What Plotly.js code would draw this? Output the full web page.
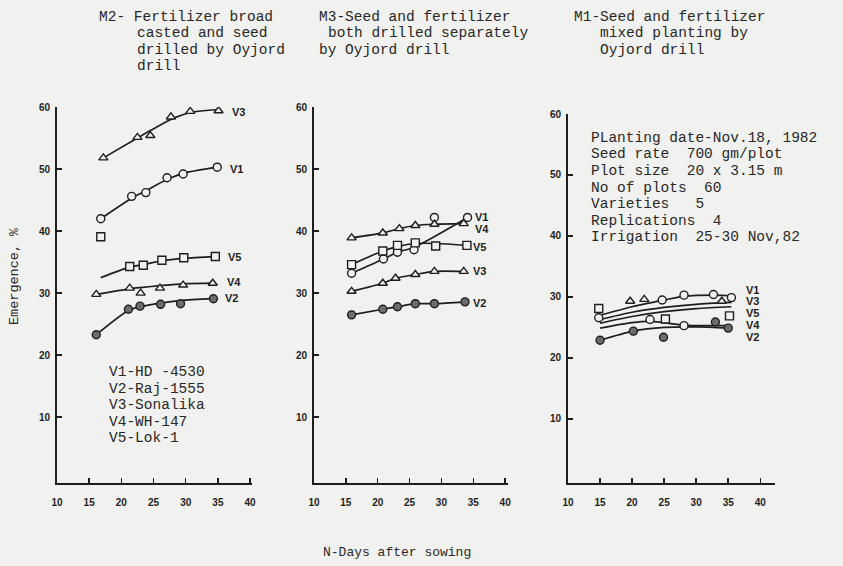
<!DOCTYPE html>
<html>
<head>
<meta charset="utf-8">
<script src="https://cdn.plot.ly/plotly-3.0.1.min.js"></script>
<style>html,body{margin:0;padding:0;background:#f2f2f0;}#chart{width:843px;height:566px;}</style>
</head>
<body>
<div id="chart"></div>
<script>
// ---------------- DATA ----------------
// Panel M2 (left): Fertilizer broad casted and seed drilled by Oyjord drill
const m2_v1_x   = [16.8, 21.6, 23.8, 27.1, 29.6, 34.9];
const m2_v1_obs = [42.0, 45.6, 46.2, 48.6, 49.2, 50.3];
const m2_v1_fit = [42.0, 45.3, 46.5, 48.3, 49.3, 50.3];
const m2_v3_x   = [17.2, 22.5, 24.5, 27.7, 30.7, 35.1];
const m2_v3_obs = [51.8, 55.1, 55.4, 58.4, 59.3, 59.4];
const m2_v3_fit = [51.8, 55.0, 56.2, 58.0, 59.1, 59.6];
const m2_v5_x   = [16.8, 21.3, 23.4, 26.3, 29.7, 34.6];
const m2_v5_obs = [39.1, 34.3, 34.5, 35.3, 35.7, 35.9];
const m2_v5_fit = [32.5, 34.2, 34.6, 35.2, 35.6, 35.9];
const m2_v4_x   = [16.1, 21.3, 23.0, 26.0, 29.6, 34.2];
const m2_v4_obs = [29.8, 30.8, 30.0, 30.8, 31.3, 31.6];
const m2_v4_fit = [29.8, 30.7, 30.9, 31.2, 31.5, 31.6];
const m2_v2_x   = [16.1, 21.1, 22.9, 26.1, 29.2, 34.3];
const m2_v2_obs = [23.3, 27.4, 27.9, 28.2, 28.3, 29.1];
const m2_v2_fit = [23.3, 27.2, 27.8, 28.4, 28.8, 29.1];

// Panel M3 (middle): Seed and fertilizer both drilled separately
const m3_v1_x   = [15.9, 20.9, 23.1, 25.7, 28.9, 34.1];
const m3_v1_obs = [33.2, 35.5, 36.6, 37.0, 42.2, 42.2];
const m3_v1_fitx = [15.9, 20.9, 23.1, 25.7, 34.1];
const m3_v1_fit  = [33.2, 35.5, 36.6, 37.4, 42.2];
const m3_v4_x   = [15.9, 20.8, 23.4, 25.9, 28.9, 33.5];
const m3_v4_obs = [38.9, 39.7, 40.4, 40.9, 41.1, 41.2];
const m3_v5_x   = [15.9, 20.8, 23.1, 25.9, 29.1, 34.0];
const m3_v5_obs = [34.6, 36.8, 37.7, 38.1, 37.6, 37.7];
const m3_v5_fit = [34.6, 36.8, 37.5, 38.0, 38.0, 37.7];
const m3_v3_x   = [15.9, 20.8, 22.8, 25.9, 28.9, 33.5];
const m3_v3_obs = [30.3, 31.6, 32.4, 33.0, 33.5, 33.5];
const m3_v2_x   = [15.9, 20.8, 23.1, 25.9, 28.9, 33.7];
const m3_v2_obs = [26.5, 27.4, 27.8, 28.3, 28.3, 28.6];

// Panel M1 (right): Seed and fertilizer mixed planting
const m1_v1_x   = [24.7, 28.1, 32.7, 35.5];
const m1_v1_obs = [29.5, 30.3, 30.4, 29.9];
const m1_v1_fitx = [15.0, 20.0, 25.0, 28.0, 33.0, 35.5];
const m1_v1_fit  = [27.0, 28.4, 29.5, 30.1, 30.3, 30.2];
const m1_v3_x   = [19.7, 21.9, 34.0];
const m1_v3_obs = [29.3, 29.6, 29.3];
const m1_v3_fitx = [15.0, 20.0, 25.0, 30.0, 35.5];
const m1_v3_fit  = [26.3, 27.5, 28.3, 28.8, 29.1];
const m1_v5_x   = [14.8, 25.2, 35.2];
const m1_v5_obs = [28.1, 26.4, 26.9];
const m1_v5_fitx = [15.0, 20.0, 25.0, 30.0, 35.5];
const m1_v5_fit  = [25.7, 26.8, 27.6, 28.1, 28.4];
const m1_v4_x   = [14.8, 22.8, 28.1];
const m1_v4_obs = [26.6, 26.3, 25.3];
const m1_v4_fitx = [15.0, 20.0, 23.0, 28.0, 35.5];
const m1_v4_fit  = [24.9, 25.8, 26.0, 25.4, 25.3];
const m1_v2_x   = [15.0, 20.2, 24.9, 33.0, 35.0];
const m1_v2_obs = [22.9, 24.4, 23.4, 25.9, 24.9];
const m1_v2_fitx = [15.0, 20.2, 25.0, 30.0, 35.0];
const m1_v2_fit  = [22.9, 24.4, 25.0, 25.1, 24.9];

const xTicks = [10, 15, 20, 25, 30, 35, 40];
const yTicks = [10, 20, 30, 40, 50, 60];
const varietyNames = ["V1-HD -4530", "V2-Raj-1555", "V3-Sonalika", "V4-WH-147", "V5-Lok-1"];
const titleM2 = ["M2- Fertilizer broad", "casted and seed", "drilled by Oyjord", "drill"];
const titleM3 = ["M3-Seed and fertilizer", "both drilled separately", "by Oyjord drill"];
const titleM1 = ["M1-Seed and fertilizer", "mixed planting by", "Oyjord drill"];
const notesM1 = ["PLanting date-Nov.18, 1982", "Seed rate  700 gm/plot", "Plot size  20 x 3.15 m",
                 "No of plots  60", "Varieties   5", "Replications  4", "Irrigation  25-30 Nov,82"];
const xTitle = "N-Days after sowing";
const yTitle = "Emergence, %";

// ---------------- STYLE / LAYOUT ----------------
const W = 843, H = 566, BG = '#f1f1ef', INK = '#1e1e1e';
const px = x => x / W, py = y => 1 - y / H;

function fit(xa, ya, ax, ay) {
  return {x: xa, y: ya, xaxis: ax, yaxis: ay, mode: 'lines', hoverinfo: 'skip',
          line: {color: INK, width: 1.7, shape: 'spline', smoothing: 0.8}};
}
function obs(xa, ya, ax, ay, sym, fill) {
  return {x: xa, y: ya, xaxis: ax, yaxis: ay, mode: 'markers',
          marker: {symbol: sym, size: 8, color: fill || BG, line: {color: INK, width: 1.4}}};
}
const DOT = '#6c6c6c';
const traces = [
  fit(m2_v1_x, m2_v1_fit, 'x', 'y'), fit(m2_v3_x, m2_v3_fit, 'x', 'y'), fit(m2_v5_x, m2_v5_fit, 'x', 'y'),
  fit(m2_v4_x, m2_v4_fit, 'x', 'y'), fit(m2_v2_x, m2_v2_fit, 'x', 'y'),
  obs(m2_v1_x, m2_v1_obs, 'x', 'y', 'circle'), obs(m2_v3_x, m2_v3_obs, 'x', 'y', 'triangle-up'),
  obs(m2_v5_x, m2_v5_obs, 'x', 'y', 'square'), obs(m2_v4_x, m2_v4_obs, 'x', 'y', 'triangle-up'),
  obs(m2_v2_x, m2_v2_obs, 'x', 'y', 'circle', DOT),

  fit(m3_v1_fitx, m3_v1_fit, 'x2', 'y2'), fit(m3_v4_x, m3_v4_obs, 'x2', 'y2'), fit(m3_v5_x, m3_v5_fit, 'x2', 'y2'),
  fit(m3_v3_x, m3_v3_obs, 'x2', 'y2'), fit(m3_v2_x, m3_v2_obs, 'x2', 'y2'),
  obs(m3_v1_x, m3_v1_obs, 'x2', 'y2', 'circle'), obs(m3_v4_x, m3_v4_obs, 'x2', 'y2', 'triangle-up'),
  obs(m3_v5_x, m3_v5_obs, 'x2', 'y2', 'square'), obs(m3_v3_x, m3_v3_obs, 'x2', 'y2', 'triangle-up'),
  obs(m3_v2_x, m3_v2_obs, 'x2', 'y2', 'circle', DOT),

  fit(m1_v1_fitx, m1_v1_fit, 'x3', 'y3'), fit(m1_v3_fitx, m1_v3_fit, 'x3', 'y3'), fit(m1_v5_fitx, m1_v5_fit, 'x3', 'y3'),
  fit(m1_v4_fitx, m1_v4_fit, 'x3', 'y3'), fit(m1_v2_fitx, m1_v2_fit, 'x3', 'y3'),
  obs(m1_v1_x, m1_v1_obs, 'x3', 'y3', 'circle'), obs(m1_v3_x, m1_v3_obs, 'x3', 'y3', 'triangle-up'),
  obs(m1_v5_x, m1_v5_obs, 'x3', 'y3', 'square'), obs(m1_v4_x, m1_v4_obs, 'x3', 'y3', 'circle'),
  obs(m1_v2_x, m1_v2_obs, 'x3', 'y3', 'circle', DOT)
];

const tickFont = {family: 'Liberation Sans', size: 10, color: INK, weight: 'bold'};
function xax(d0, d1, r1, anchor) {
  return {domain: [px(d0), px(d1)], range: [10, r1], anchor: anchor, showline: true, linecolor: INK, linewidth: 2,
          ticks: 'inside', ticklen: 5, tickwidth: 1.5, tickcolor: INK, tickvals: xTicks, ticktext: xTicks.map(String),
          tickfont: tickFont, ticklabelstandoff: 9, showgrid: false, zeroline: false, fixedrange: true};
}
function yax(top, r0, r1, anchor) {
  return {domain: [py(483), py(top)], range: [r0, r1], anchor: anchor, showline: true, linecolor: INK, linewidth: 2,
          ticks: 'inside', ticklen: 5, tickwidth: 1.5, tickcolor: INK, tickvals: yTicks, ticktext: yTicks.map(String),
          tickfont: tickFont, ticklabelstandoff: 3, showgrid: false, zeroline: false, fixedrange: true};
}

const mono = (s) => ({family: 'Liberation Mono', size: s, color: '#282828'});
const ann = [];
function txt(t, x, y, size, opts) {
  ann.push(Object.assign({text: t, x: px(x), y: py(y), xref: 'paper', yref: 'paper', xanchor: 'left',
    yanchor: 'middle', showarrow: false, borderpad: 0, font: mono(size)}, opts || {}));
}
const TS = 14.5, LS = 16.5;
// panel titles
titleM2.forEach((t, i) => txt(t, i === 0 ? 98 : 136, 17 + i * LS, TS));
titleM3.forEach((t, i) => txt(t, i === 1 ? 327 : 318, 17 + i * LS, TS));
titleM1.forEach((t, i) => txt(t, i === 0 ? 573 : 599, 17 + i * LS, TS));
// notes in M1 panel
notesM1.forEach((t, i) => txt(t, 590, 138 + i * LS, TS));
// variety legend in M2 panel
varietyNames.forEach((t, i) => txt(t, 108, 372 + i * LS, TS));
// axis titles
txt(xTitle, 397, 552, 13, {xanchor: 'center'});
txt(yTitle, 14, 276, 13.5, {xanchor: 'center', textangle: -90});
// series end labels
const lab = {family: 'Liberation Sans', size: 11, color: INK, weight: 'bold'};
function vl(t, x, y) { txt(t, x, y, 11, {font: lab}); }
vl('V3', 231, 112); vl('V1', 229, 169); vl('V5', 227, 257); vl('V4', 226, 282); vl('V2', 224, 298);
vl('V1', 474, 217); vl('V4', 474, 229); vl('V5', 472, 247); vl('V3', 472, 271); vl('V2', 472, 303);
vl('V1', 745, 290); vl('V3', 745, 301); vl('V5', 745, 313); vl('V4', 745, 325); vl('V2', 745, 337);

const layout = {
  width: W, height: H, margin: {l: 0, r: 0, t: 0, b: 0},
  paper_bgcolor: BG, plot_bgcolor: 'rgba(0,0,0,0)', showlegend: false,
  xaxis: xax(57, 252, 40.3, 'y'), yaxis: yax(107, -0.6, 60, 'x'),
  xaxis2: xax(314, 508, 40.45, 'y2'), yaxis2: yax(107, -0.6, 60, 'x2'),
  xaxis3: xax(568, 775, 42.3, 'y3'), yaxis3: yax(114, -0.5, 60, 'x3'),
  annotations: ann
};
Plotly.newPlot('chart', traces, layout, {displayModeBar: false, staticPlot: true});
</script>
</body>
</html>
